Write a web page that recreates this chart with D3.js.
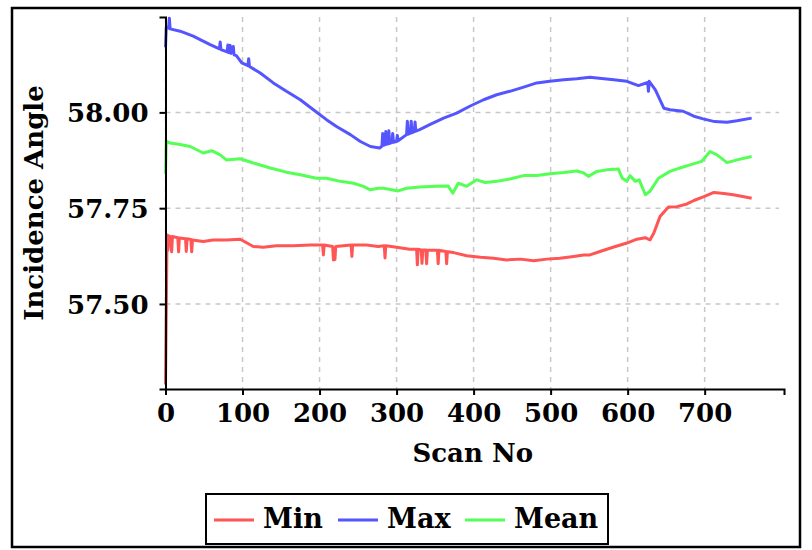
<!DOCTYPE html>
<html>
<head>
<meta charset="utf-8">
<script src="https://cdn.jsdelivr.net/npm/d3@7"></script>
<style>
  body { margin: 0; background: #fff; }
  text { font-family: "DejaVu Serif", serif; font-weight: bold; }
  .grid line { stroke: #c8c8c8; stroke-width: 1.5; stroke-dasharray: 5,5; }
  .axis path, .axis line { stroke: #000; stroke-width: 2; }
</style>
</head>
<body>
<div id="chart"></div>
<script>
// [scan no, incidence angle]
var minSeries = [
  [0, 57.29], [2, 57.68], [3, 57.64], [4, 57.678], [6, 57.676], [8, 57.636], [9, 57.676],
  [16, 57.673], [17, 57.636], [18, 57.672], [26, 57.67], [27, 57.637], [28, 57.67],
  [33, 57.668], [34, 57.636], [35, 57.667], [49, 57.663], [62, 57.667], [79, 57.667],
  [97, 57.669], [114, 57.65], [127, 57.648], [144, 57.652], [166, 57.652], [188, 57.654],
  [204, 57.654], [205, 57.628], [206, 57.654], [217, 57.65], [218, 57.615], [220, 57.616],
  [221, 57.65], [241, 57.654], [242, 57.624], [243, 57.654], [261, 57.654], [276, 57.65],
  [284, 57.652], [285, 57.62], [286, 57.652], [300, 57.648], [317, 57.643],
  [326, 57.643], [327, 57.602], [328, 57.643], [332, 57.641], [333, 57.606], [334, 57.641],
  [338, 57.641], [339, 57.605], [340, 57.64], [353, 57.64], [354, 57.605], [355, 57.64],
  [364, 57.637], [365, 57.605], [366, 57.636], [374, 57.634], [391, 57.626], [409, 57.622],
  [426, 57.619], [443, 57.615], [461, 57.617], [478, 57.613], [495, 57.617], [512, 57.619],
  [530, 57.624], [543, 57.628], [551, 57.628], [564, 57.637], [581, 57.648], [599, 57.659],
  [612, 57.669], [623, 57.673], [629, 57.667], [634, 57.685], [642, 57.728], [653, 57.753],
  [664, 57.754], [677, 57.761], [686, 57.77], [699, 57.78], [712, 57.791], [725, 57.788],
  [737, 57.785], [746, 57.782], [761, 57.776]
];

var maxSeries = [
  [0, 58.17], [1, 58.222], [4, 58.22], [5, 58.246], [6, 58.218], [19, 58.212], [36, 58.199],
  [45, 58.19], [58, 58.177], [70, 58.166], [71, 58.184], [72, 58.164], [80, 58.158],
  [81, 58.176], [82, 58.156], [84, 58.175], [85, 58.154], [88, 58.172], [89, 58.15],
  [92, 58.148], [99, 58.129], [107, 58.122], [108, 58.14], [109, 58.12], [123, 58.103],
  [140, 58.077], [157, 58.055], [175, 58.033], [192, 58.007], [209, 57.981], [222, 57.963],
  [240, 57.942], [253, 57.924], [266, 57.911], [278, 57.907], [281, 57.912], [282, 57.945],
  [283, 57.914], [285, 57.916], [286, 57.95], [287, 57.917], [289, 57.918], [290, 57.952],
  [291, 57.919], [294, 57.921], [295, 57.945], [296, 57.922], [300, 57.924], [301, 57.94],
  [302, 57.926], [313, 57.942], [314, 57.977], [315, 57.943], [318, 57.946], [319, 57.977],
  [320, 57.947], [323, 57.95], [324, 57.975], [325, 57.951], [330, 57.955], [343, 57.968],
  [361, 57.985], [378, 57.998], [395, 58.016], [413, 58.033], [430, 58.046], [447, 58.055],
  [465, 58.066], [482, 58.077], [499, 58.081], [517, 58.085], [534, 58.088], [551, 58.092],
  [560, 58.09], [582, 58.085], [599, 58.081], [614, 58.07], [626, 58.078], [627, 58.055],
  [628, 58.081], [636, 58.059], [647, 58.011], [655, 58.007], [672, 58.003], [686, 57.99],
  [698, 57.983], [713, 57.976], [729, 57.974], [742, 57.978], [761, 57.985]
];

var meanSeries = [
  [0, 57.84], [1, 57.925], [6, 57.92], [19, 57.916], [32, 57.911], [49, 57.894], [60, 57.9],
  [71, 57.889], [79, 57.876], [97, 57.879], [114, 57.868], [136, 57.855], [157, 57.844],
  [175, 57.837], [196, 57.828], [209, 57.828], [227, 57.82], [244, 57.815], [257, 57.807],
  [266, 57.798], [276, 57.802], [283, 57.802], [302, 57.795], [313, 57.802], [330, 57.805],
  [352, 57.807], [367, 57.808], [373, 57.789], [380, 57.815], [391, 57.807], [404, 57.824],
  [415, 57.817], [430, 57.82], [447, 57.826], [465, 57.835], [482, 57.835], [499, 57.84],
  [517, 57.843], [534, 57.847], [543, 57.842], [549, 57.833], [560, 57.846], [573, 57.85],
  [588, 57.852], [593, 57.828], [599, 57.82], [603, 57.835], [610, 57.82], [615, 57.824],
  [623, 57.785], [629, 57.794], [640, 57.828], [655, 57.846], [668, 57.855], [681, 57.863],
  [696, 57.872], [707, 57.898], [716, 57.889], [729, 57.869], [742, 57.876], [761, 57.885]
];

var seriesNames = ["Min", "Max", "Mean"];
var seriesColors = ["#ff5555", "#5555ff", "#55ff55"];
var xTicks = [0, 100, 200, 300, 400, 500, 600, 700];
var yTicks = [57.5, 57.75, 58.0];

var myApp = {};
myApp.w = 812;
myApp.h = 550;
myApp.plot = {left: 165.5, right: 784, top: 17, bottom: 389};

myApp.run = function () {
    let svg = d3.select("#chart").append("svg")
        .attr("width", myApp.w)
        .attr("height", myApp.h);

    // outer frame
    svg.append("rect")
        .attr("x", 12).attr("y", 8)
        .attr("width", 788).attr("height", 539)
        .attr("fill", "none").attr("stroke", "#000").attr("stroke-width", 2.5);

    let p = myApp.plot;
    let xScale = d3.scaleLinear().domain([0, 803]).range([p.left, p.right]);
    let yScale = d3.scaleLinear().domain([57.278, 58.249]).range([p.bottom, p.top]);

    // grid
    let grid = svg.append("g").attr("class", "grid");
    grid.selectAll(".vg").data(xTicks).enter().append("line")
        .attr("x1", d => xScale(d)).attr("x2", d => xScale(d))
        .attr("y1", p.top).attr("y2", p.bottom);
    grid.selectAll(".hg").data(yTicks).enter().append("line")
        .attr("x1", p.left).attr("x2", p.right - 5)
        .attr("y1", d => yScale(d)).attr("y2", d => yScale(d));

    // lines
    let line = d3.line().x(d => xScale(d[0])).y(d => yScale(d[1]));
    [minSeries, maxSeries, meanSeries].forEach(function (s, i) {
        svg.append("path")
            .datum(s)
            .attr("fill", "none")
            .attr("stroke", seriesColors[i])
            .attr("stroke-width", 3)
            .attr("stroke-linejoin", "round")
            .attr("d", line);
    });

    // axes
    let xAxis = d3.axisBottom(xScale).tickValues(xTicks).tickSizeOuter(0).tickSize(6).tickPadding(9);
    let yAxis = d3.axisLeft(yScale).tickValues(yTicks).tickSizeOuter(0).tickSize(6)
        .tickPadding(11).tickFormat(d3.format(".2f"));

    let gx = svg.append("g").attr("class", "axis")
        .attr("transform", "translate(0," + p.bottom + ")")
        .call(xAxis);
    let gy = svg.append("g").attr("class", "axis")
        .attr("transform", "translate(" + p.left + ",0)")
        .call(yAxis);
    svg.selectAll(".axis text")
        .attr("font-family", "DejaVu Serif")
        .attr("font-weight", "bold")
        .attr("font-size", 26)
        .attr("fill", "#000");
    gy.selectAll(".tick text").attr("dy", "0.36em");

    // axis titles
    svg.append("text")
        .attr("x", (p.left + p.right) / 2 - 2)
        .attr("y", 462)
        .attr("text-anchor", "middle")
        .attr("font-size", 26)
        .text("Scan No");
    svg.append("text")
        .attr("transform", "translate(43," + ((p.top + p.bottom) / 2) + ") rotate(-90)")
        .attr("text-anchor", "middle")
        .attr("font-size", 26)
        .text("Incidence Angle");

    // legend
    let lg = svg.append("g").attr("class", "legend");
    lg.append("rect")
        .attr("x", 206).attr("y", 494)
        .attr("width", 402).attr("height", 50)
        .attr("fill", "#fff").attr("stroke", "#000").attr("stroke-width", 2);
    let lx = [214, 338, 465];
    seriesNames.forEach(function (n, i) {
        lg.append("line")
            .attr("x1", lx[i]).attr("x2", lx[i] + 40)
            .attr("y1", 520).attr("y2", 520)
            .attr("stroke", seriesColors[i]).attr("stroke-width", 3);
        lg.append("text")
            .attr("x", lx[i] + 49).attr("y", 528)
            .attr("font-size", 27)
            .text(n);
    });
};

window.onload = myApp.run;
</script>
</body>
</html>
